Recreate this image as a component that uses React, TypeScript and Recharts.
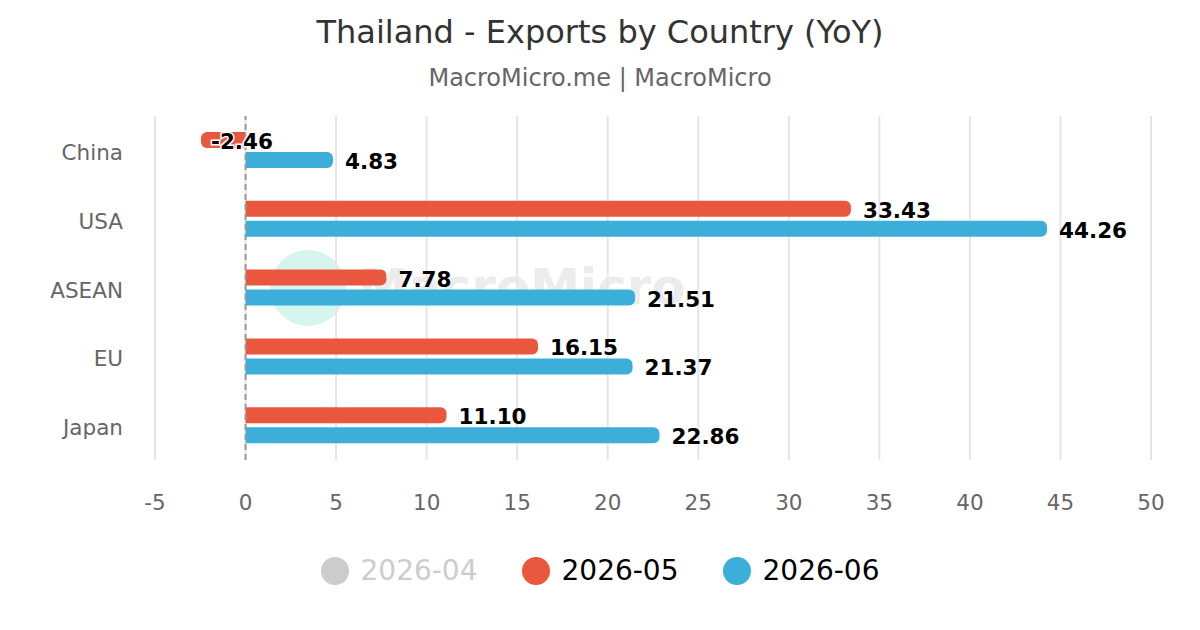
import { BarChart, Bar, XAxis, YAxis, CartesianGrid, ReferenceLine, LabelList } from 'recharts';

const countries = ['China', 'USA', 'ASEAN', 'EU', 'Japan'];
const may2026 = [-2.46, 33.43, 7.78, 16.15, 11.1];
const jun2026 = [4.83, 44.26, 21.51, 21.37, 22.86];
const xTicks = [-5, 0, 5, 10, 15, 20, 25, 30, 35, 40, 45, 50];

const legendItems = [
  { name: '2026-04', color: '#cccccc', hidden: true },
  { name: '2026-05', color: '#e9573f', hidden: false },
  { name: '2026-06', color: '#3bafda', hidden: false },
];

const data = countries.map((name, i) => ({ name, may: may2026[i], jun: jun2026[i] }));

const FONT = 'DejaVu Sans, sans-serif';

const ValueLabel = (props: any) => {
  const { x, y, width, height, value } = props;
  const neg = value < 0;
  const tx = neg ? x + width + 10 : x + width + 12;
  return (
    <text
      x={tx}
      y={y + height / 2 + 3}
      fontFamily={FONT}
      fontSize={21.5}
      fontWeight="bold"
      fill="#000"
      stroke="#fff"
      strokeWidth={neg ? 3 : 0}
      paintOrder="stroke"
      dominantBaseline="middle"
      textAnchor="start"
    >
      {value.toFixed(2)}
    </text>
  );
};

export default function App() {
  return (
    <div style={{ position: 'absolute', top: 0, left: 0, width: 1200, height: 630, background: '#fff', fontFamily: FONT }}>
      <div style={{ position: 'absolute', top: 13, width: 1200, textAlign: 'center', fontSize: 32, color: '#333' }}>
        Thailand - Exports by Country (YoY)
      </div>
      <div style={{ position: 'absolute', top: 64, width: 1200, textAlign: 'center', fontSize: 24, color: '#666' }}>
        MacroMicro.me | MacroMicro
      </div>
      {/* watermark */}
      <div style={{ position: 'absolute', left: 270, top: 250, width: 76, height: 76, borderRadius: 38, background: '#d5f5ee' }} />
      <div style={{ position: 'absolute', left: 358, top: 258, fontSize: 50, fontWeight: 'bold', color: '#ececec' }}>
        MacroMicro
      </div>
      <div style={{ position: 'absolute', top: 0, left: 0 }}>
        <BarChart
          width={1200}
          height={630}
          data={data}
          layout="vertical"
          margin={{ top: 116, right: 49, bottom: 0, left: 0 }}
          barSize={16}
          barGap={4}
        >
          <CartesianGrid horizontal={false} stroke="#e6e6e6" strokeWidth={2} />
          <XAxis
            type="number"
            domain={[-5, 50]}
            ticks={xTicks}
            axisLine={false}
            tickLine={false}
            tickSize={0}
            tickMargin={35}
            height={170}
            tick={{ fill: '#666', fontSize: 21.5, fontFamily: FONT }}
            interval={0}
          />
          <YAxis
            type="category"
            dataKey="name"
            width={155}
            axisLine={false}
            tickLine={false}
            tickSize={0}
            tickMargin={32}
            tick={{ fill: '#666', fontSize: 21.5, fontFamily: FONT, dy: 2 }}
          />
          <ReferenceLine x={0} stroke="#999" strokeWidth={2} strokeDasharray="6 4" />
          <Bar dataKey="may" fill="#e9573f" radius={[0, 6, 6, 0]} isAnimationActive={false}>
            <LabelList dataKey="may" content={ValueLabel} />
          </Bar>
          <Bar dataKey="jun" fill="#3bafda" radius={[0, 6, 6, 0]} isAnimationActive={false}>
            <LabelList dataKey="jun" content={ValueLabel} />
          </Bar>
        </BarChart>
      </div>
      <div style={{ position: 'absolute', top: 554, left: 0, width: 1200, display: 'flex', justifyContent: 'center', gap: 44 }}>
        {legendItems.map((it) => (
          <div key={it.name} style={{ display: 'flex', alignItems: 'center' }}>
            <div style={{ width: 28, height: 28, borderRadius: 14, background: it.color, marginRight: 12 }} />
            <span style={{ fontSize: 28, color: it.hidden ? '#cccccc' : '#000' }}>{it.name}</span>
          </div>
        ))}
      </div>
    </div>
  );
}
